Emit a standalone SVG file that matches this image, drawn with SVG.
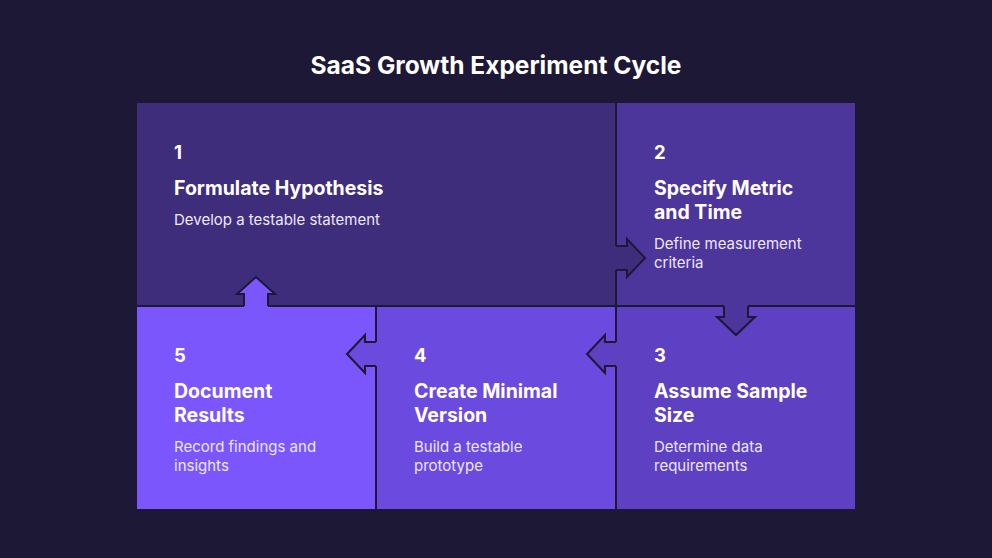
<svg xmlns="http://www.w3.org/2000/svg" width="992" height="558" viewBox="0 0 992 558">
<style>
.bg{fill:#1c1836}
.num{font-family:Inter,"Liberation Sans",Arial,sans-serif;font-weight:bold;font-size:18.5px;fill:#ffffff}
.head{font-family:Inter,"Liberation Sans",Arial,sans-serif;font-weight:bold;font-size:19.5px;fill:#ffffff}
.desc{font-family:Inter,"Liberation Sans",Arial,sans-serif;font-size:15px;fill:#ece8ff}
.title{font-family:Inter,"Liberation Sans",Arial,sans-serif;font-weight:bold;font-size:24.5px;fill:#ffffff}
.div{stroke:#1c1836;stroke-width:2;fill:none}
.edge{stroke:#1c1836;stroke-width:2;fill:none;stroke-linejoin:miter}
</style>
<rect class="bg" x="0" y="0" width="992" height="558"/>
<text class="title" x="496" y="74" text-anchor="middle">SaaS Growth Experiment Cycle</text>

<g id="cell1"><rect x="137" y="103" width="479" height="203" fill="#3e2d7a"/></g>
<g id="cell2"><rect x="616" y="103" width="239" height="203" fill="#4c359b"/></g>
<g id="cell3"><rect x="616" y="306" width="239" height="203" fill="#5e40c2"/></g>
<g id="cell4"><rect x="376" y="306" width="240" height="203" fill="#6b4adf"/></g>
<g id="cell5"><rect x="137" y="306" width="239" height="203" fill="#7b56fd"/></g>

<g id="dividers">
<line class="div" x1="616" y1="103" x2="616" y2="509"/>
<line class="div" x1="376" y1="306" x2="376" y2="509"/>
<line class="div" x1="137" y1="306" x2="855" y2="306"/>
</g>

<g id="connectors">
<polygon points="612,246 627,246 627,239 645,258 627,277 627,270 612,270" fill="#3e2d7a"/>
<polyline class="edge" points="616,246 627,246 627,239 645,258 627,277 627,270 616,270"/>
<polygon points="724,302 724,317 717,317 736,335 755,317 748,317 748,302" fill="#4c359b"/>
<polyline class="edge" points="724,306 724,317 717,317 736,335 755,317 748,317 748,306"/>
<polygon points="620,342 605,342 605,335 587,354 605,373 605,366 620,366" fill="#5e40c2"/>
<polyline class="edge" points="616,342 605,342 605,335 587,354 605,373 605,366 616,366"/>
<polygon points="380,342 365,342 365,335 347,354 365,373 365,366 380,366" fill="#6b4adf"/>
<polyline class="edge" points="376,342 365,342 365,335 347,354 365,373 365,366 376,366"/>
<polygon points="244,310 244,294 237,294 256,277 275,294 268,294 268,310" fill="#7b56fd"/>
<polyline class="edge" points="244,306 244,294 237,294 256,277 275,294 268,294 268,306"/>
</g>

<g id="text1">
<text class="num" x="174" y="159">1</text>
<text class="head" x="174" y="195">Formulate Hypothesis</text>
<text class="desc" x="174" y="225">Develop a testable statement</text>
</g>
<g id="text2">
<text class="num" x="654" y="159">2</text>
<text class="head" x="654" y="195">Specify Metric</text>
<text class="head" x="654" y="219">and Time</text>
<text class="desc" x="654" y="249">Define measurement</text>
<text class="desc" x="654" y="268">criteria</text>
</g>
<g id="text3">
<text class="num" x="654" y="362">3</text>
<text class="head" x="654" y="398">Assume Sample</text>
<text class="head" x="654" y="422">Size</text>
<text class="desc" x="654" y="452">Determine data</text>
<text class="desc" x="654" y="471">requirements</text>
</g>
<g id="text4">
<text class="num" x="414" y="362">4</text>
<text class="head" x="414" y="398">Create Minimal</text>
<text class="head" x="414" y="422">Version</text>
<text class="desc" x="414" y="452">Build a testable</text>
<text class="desc" x="414" y="471">prototype</text>
</g>
<g id="text5">
<text class="num" x="174" y="362">5</text>
<text class="head" x="174" y="398">Document</text>
<text class="head" x="174" y="422">Results</text>
<text class="desc" x="174" y="452">Record findings and</text>
<text class="desc" x="174" y="471">insights</text>
</g>
</svg>
